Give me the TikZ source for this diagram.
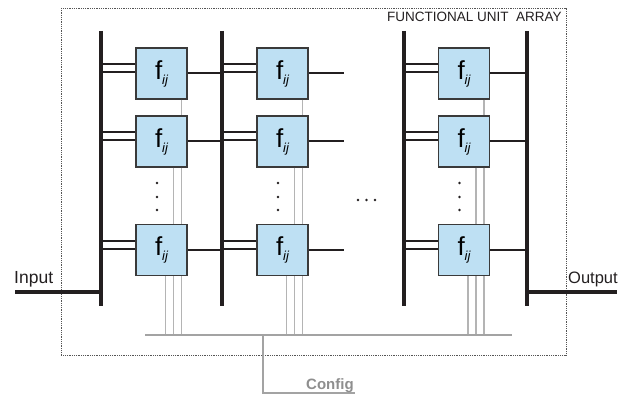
\documentclass[tikz,border=0pt]{standalone}
\usepackage{fontspec}
\setmainfont{Liberation Sans}
\usetikzlibrary{calc}
\definecolor{busc}{HTML}{231F20}
\definecolor{boxfill}{HTML}{BEE0F3}
\definecolor{boxdraw}{HTML}{3A3A3A}
\definecolor{cfgc}{HTML}{B4B4B4}
\definecolor{cfgbusc}{HTML}{A3A3A3}
\definecolor{framec}{HTML}{555555}
\definecolor{cfgtext}{HTML}{8E8E8E}
\newcommand\fijtext{{\fontsize{26}{26}\selectfont f}\raisebox{-5pt}{\fontsize{13}{13}\selectfont\itshape ij}}
\begin{document}
\begin{tikzpicture}[x=1pt,y=-1pt,
  fu/.style={draw=boxdraw, line width=1.1pt, fill=boxfill, minimum size=51pt, inner sep=0pt},
  busline/.style={draw=busc, line width=4.5pt},
  wire/.style={draw=busc, line width=2pt},
  cfgline/.style={draw=cfgc, line width=1.4pt},
  cfgbus/.style={draw=cfgbusc, line width=2.4pt},
  frame/.style={draw=framec, densely dotted, line width=0.8pt},
  dotmark/.style={fill=busc}]
\useasboundingbox (0,0) rectangle (629,398);

% frame
\draw[frame] (61,8) rectangle (566,355);
\node[anchor=base west, font=\fontsize{13.5}{13.5}\selectfont, text=busc, inner sep=0pt] (title) at (387,22) {FUNCTIONAL UNIT\ \ ARRAY};

% buses
\coordinate (bus1t) at (101,31); \coordinate (bus1b) at (101,306);
\coordinate (bus2t) at (222,31); \coordinate (bus2b) at (222,306);
\coordinate (bus3t) at (404,31); \coordinate (bus3b) at (404,306);
\coordinate (bus4t) at (527,31); \coordinate (bus4b) at (527,306);
\foreach \b in {1,2,3,4} \draw[busline] (bus\b t) -- (bus\b b);

% config bus
\coordinate (cfgL) at (145,335);
\coordinate (cfgR) at (512,335);
\coordinate (cfgJ) at (263,335);
\coordinate (cfgE) at (355,393);

% boxes
\foreach \c/\x in {1/161.5,2/282.5,3/464}{
  \foreach \r/\y in {1/73.5,2/141.5,3/250}{
    \node[fu] (b\c\r) at (\x,\y) {\fijtext};
  }
  % gray config lines
  \draw[cfgline] ([xshift=-6pt]b\c1.south east) -- ([xshift=-6pt]b\c2.north east);
  \draw[cfgline] ([xshift=-6pt]b\c2.south east) -- ([xshift=-6pt]b\c3.north east);
  \draw[cfgline] ([xshift=-14pt]b\c2.south east) -- ([xshift=-14pt]b\c3.north east);
  \foreach \d in {6,14,22}{
    \path ([xshift=-\d pt]b\c3.south east) coordinate (cb);
    \draw[cfgline] (cb) -- (cb |- cfgL);
  }
  % vertical dots
  \foreach \yy in {183,197,210}
    \fill[dotmark] ($(b\c2.center |- 0,\yy)+(-4.5pt,0)$) circle (1.4);
}

% config bus lines
\draw[cfgbus] (cfgL) -- (cfgR);
\draw[cfgbus, line width=2pt] (cfgJ) |- (cfgE);
\node[anchor=base west, font=\bfseries\fontsize{15}{15}\selectfont, text=cfgtext, inner sep=0pt] (cfglbl) at (306,389) {Config};

% input wires (double) and output wires
\foreach \c/\bus in {1/bus1t,2/bus2t,3/bus3t}{
  \foreach \r in {1,2,3}{
    \path ([yshift=9pt]b\c\r.west) coordinate (ia);
    \path ([yshift=1pt]b\c\r.west) coordinate (ib);
    \draw[wire] (ia) -- (ia -| \bus);
    \draw[wire] (ib) -- (ib -| \bus);
  }
}
\foreach \r in {1,2,3}{
  \draw[wire] (b1\r.east) -- (b1\r.east -| bus2t);
  \draw[wire] (b2\r.east) -- ++(35,0) coordinate (free\r);
  \draw[wire] (b3\r.east) -- (b3\r.east -| bus4t);
}

% horizontal dots
\foreach \xx in {358,366.5,375} \fill[dotmark] (\xx,200) circle (1.4);

% input / output
\coordinate (inL) at (15,292);
\coordinate (outR) at (617,292);
\draw[busline, line width=4pt] (inL) -- (inL -| bus1t);
\draw[busline, line width=4pt] (bus4t |- outR) -- (outR);
\node[anchor=base west, font=\fontsize{17.5}{17.5}\selectfont, text=busc, inner sep=0pt] (inlbl) at (14,283) {Input};
\node[anchor=base west, font=\fontsize{16.5}{16.5}\selectfont, text=busc, inner sep=0pt] (outlbl) at (568,283) {Output};
\end{tikzpicture}
\end{document}
